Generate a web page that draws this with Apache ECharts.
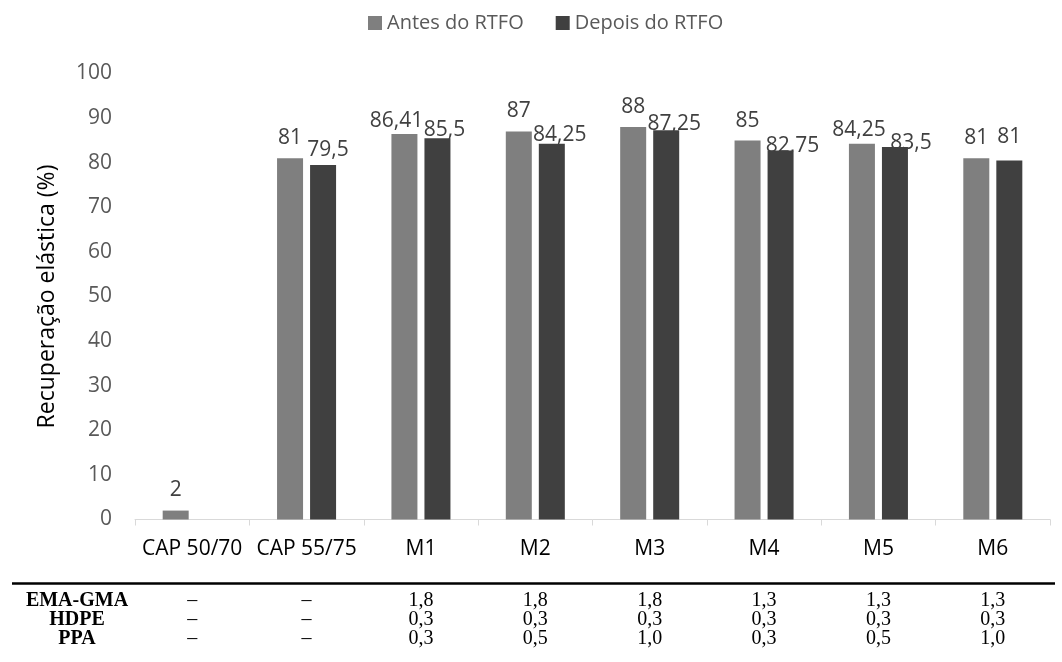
<!DOCTYPE html>
<html>
<head>
<meta charset="utf-8">
<script src="https://cdn.jsdelivr.net/npm/echarts@6/dist/echarts.min.js"></script>
<style>html,body{margin:0;padding:0;background:#fff}#c{width:1062px;height:662px}</style>
</head>
<body>
<div id="c"></div>
<script>
// ---- data ----
const categories = ['CAP 50/70', 'CAP 55/75', 'M1', 'M2', 'M3', 'M4', 'M5', 'M6'];
const antes = [2, 81, 86.41, 87, 88, 85, 84.25, 81];
const depois = [null, 79.5, 85.5, 84.25, 87.25, 82.75, 83.5, 80.5];      // bar heights as drawn
const depoisLabel = [null, 79.5, 85.5, 84.25, 87.25, 82.75, 83.5, 81];   // values printed on labels
const emaGma = ['–', '–', '1,8', '1,8', '1,8', '1,3', '1,3', '1,3'];
const hdpe = ['–', '–', '0,3', '0,3', '0,3', '0,3', '0,3', '0,3'];
const ppa = ['–', '–', '0,3', '0,5', '1,0', '0,3', '0,5', '1,0'];
const yTicks = { min: 0, max: 100, interval: 10 };

// ---- style: label nudges [dx, dy] (Excel manual label placement) ----
const antesNudge = [[0,0],[0,0],[-8,7],[0,0],[0,0],[0,1],[-3,7],[0,0]];
const depoisNudge = [[0,0],[5,6],[7,12],[8,12],[8,14],[12,16],[16,16],[0,-3]];

const SANS = '"Open Sans", "Noto Sans", sans-serif';
const SERIF = '"Liberation Serif", "DejaVu Serif", serif';
const fmt = v => String(v).replace('.', ',');

function barData(vals, nudges, labelVals) {
  return vals.map((v, i) => v == null ? null : {
    value: v,
    label: { offset: nudges[i], formatter: fmt(labelVals ? labelVals[i] : v) }
  });
}

function tableAxis(rowName, rowData, offset) {
  return {
    type: 'category', data: categories.map((c, i) => rowData[i]), gridIndex: 0,
    position: 'bottom', offset: offset,
    axisLine: { show: false }, axisTick: { show: false },
    axisLabel: { interval: 0, margin: 0, verticalAlign: 'middle', color: '#000', fontFamily: SERIF, fontSize: 20,
      formatter: (v, i) => rowData[i] },
    name: '{n|' + rowName + '}', nameLocation: 'start', nameGap: -2,
    nameTextStyle: { align: 'right', verticalAlign: 'middle',
      rich: { n: { width: 120, align: 'center', fontFamily: SERIF, fontWeight: 'bold', fontSize: 20, color: '#000' } } }
  };
}

const chart = echarts.init(document.getElementById('c'), null, { renderer: 'canvas' });
chart.setOption({
  animation: false,
  backgroundColor: '#fff',
  legend: {
    left: 363, top: 8, itemWidth: 14, itemHeight: 14, itemGap: 32, icon: 'rect',
    textStyle: { color: '#595959', fontFamily: SANS, fontSize: 20 },
    data: ['Antes do RTFO', 'Depois do RTFO']
  },
  grid: { left: 135, right: 12, top: 73.5, bottom: 142.5, containLabel: false },
  xAxis: [
    {
      type: 'category', data: categories, boundaryGap: true,
      axisLine: { lineStyle: { color: '#d9d9d9', width: 1 } },
      axisTick: { show: true, length: 6, lineStyle: { color: '#d9d9d9' } },
      axisLabel: { interval: 0, margin: 19, color: '#000', fontFamily: SANS, fontSize: 21 },
      splitLine: { show: false }
    },
    tableAxis('EMA-GMA', emaGma, 81),
    tableAxis('HDPE', hdpe, 100),
    tableAxis('PPA', ppa, 119.5)
  ],
  yAxis: {
    type: 'value', min: yTicks.min, max: yTicks.max, interval: yTicks.interval,
    axisLine: { show: false }, axisTick: { show: false }, splitLine: { show: false },
    axisLabel: { margin: 23, color: '#595959', fontFamily: SANS, fontSize: 21 },
    name: 'Recuperação elástica (%)', nameLocation: 'middle', nameGap: 76, nameRotate: 90,
    nameTextStyle: { color: '#000', fontFamily: SANS, fontSize: 23 }
  },
  series: [
    {
      name: 'Antes do RTFO', type: 'bar', barWidth: 26, barGap: '27%',
      itemStyle: { color: '#7f7f7f' },
      label: { show: true, position: 'top', distance: 10, color: '#404040', fontFamily: SANS, fontSize: 21 },
      data: barData(antes, antesNudge)
    },
    {
      name: 'Depois do RTFO', type: 'bar', barWidth: 26, barGap: '27%',
      itemStyle: { color: '#404040' },
      label: { show: true, position: 'top', distance: 10, color: '#404040', fontFamily: SANS, fontSize: 21 },
      data: barData(depois, depoisNudge, depoisLabel)
    }
  ],
  graphic: [
    { type: 'line', shape: { x1: 12, y1: 583.5, x2: 1055, y2: 583.5 }, style: { stroke: '#000', lineWidth: 2.5 }, silent: true }
  ]
});
</script>
</body>
</html>
